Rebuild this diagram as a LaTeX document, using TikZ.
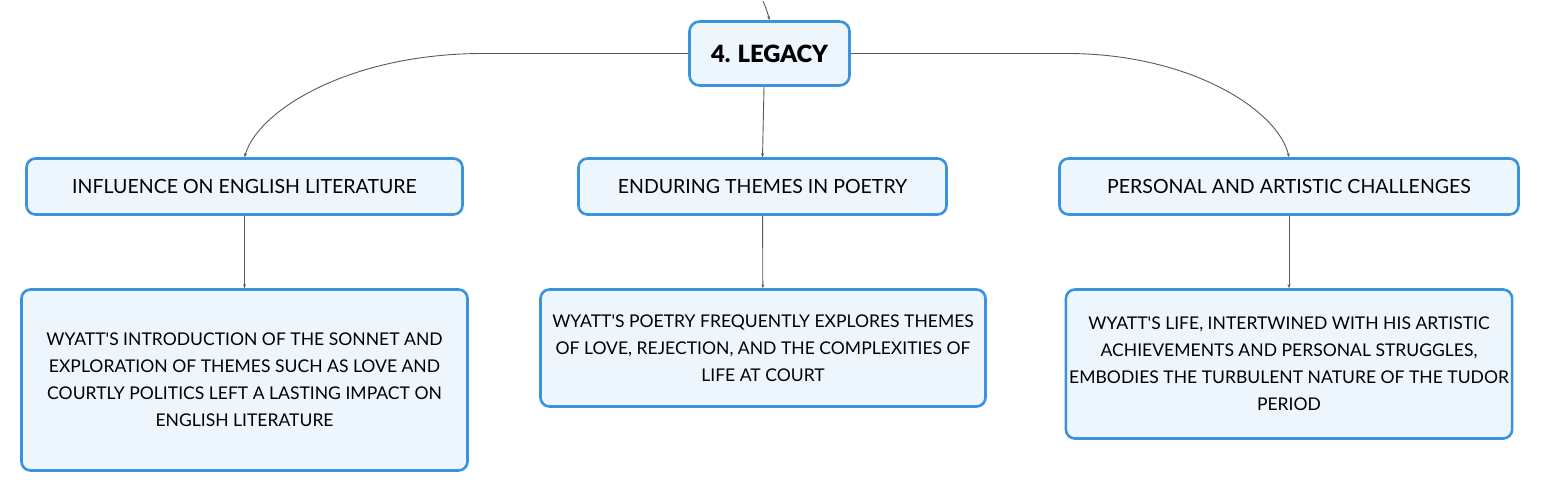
\documentclass[tikz,border=0pt]{standalone}
\usepackage{fontspec}
\setmainfont{Lato}[Ligatures=TeXOff]
\newfontfamily\blackfont{Lato Black}
\usetikzlibrary{arrows.meta}
\definecolor{boxblue}{HTML}{3A93DC}
\definecolor{boxfill}{HTML}{EEF6FD}
\definecolor{linkgray}{HTML}{5A5A5A}
\tikzset{
  topic/.style={draw=boxblue,fill=boxfill,line width=2.6bp,rounded corners=9bp,align=center,font=\fontsize{19.6}{22}\selectfont},
  detail/.style={topic,font=\fontsize{17.6}{27}\selectfont},
  link/.style={draw=linkgray,line width=0.9bp,-{Stealth[length=4bp,width=3bp]}},
}
\begin{document}
\begin{tikzpicture}[>=latex,line join=bevel,]
\useasboundingbox (0bp,0bp) rectangle (1541bp,-494bp);
%%
\coordinate (top_in) at (763bp,-1bp);
\node (legacy) at (769.5bp,-53.5bp) [topic,minimum width=160bp,minimum height=64bp,rounded corners=10bp,font=\fontsize{23.8}{26}\blackfont] {4. LEGACY};
%
\node (node_infl) at (244.5bp,-186.5bp) [topic,minimum width=436bp,minimum height=56bp] {INFLUENCE ON ENGLISH LITERATURE};
  \node (node_themes) at (762.5bp,-186.5bp) [topic,minimum width=368bp,minimum height=56bp] {ENDURING THEMES IN POETRY};
  \node (node_chall) at (1289bp,-186.5bp) [topic,minimum width=459bp,minimum height=56bp] {PERSONAL AND ARTISTIC CHALLENGES};
%
\node (node_infl_txt) at (244.5bp,-380bp) [detail,minimum width=446bp,minimum height=181bp] {WYATT'S INTRODUCTION OF THE SONNET AND\\EXPLORATION OF THEMES SUCH AS LOVE AND\\COURTLY POLITICS LEFT A LASTING IMPACT ON\\ENGLISH LITERATURE};
  \node (node_themes_txt) at (763bp,-348bp) [detail,minimum width=445bp,minimum height=117bp] {WYATT'S POETRY FREQUENTLY EXPLORES THEMES\\OF LOVE, REJECTION, AND THE COMPLEXITIES OF\\LIFE AT COURT};
  \node (node_chall_txt) at (1289bp,-364bp) [detail,minimum width=445bp,minimum height=149bp] {WYATT'S LIFE, INTERTWINED WITH HIS ARTISTIC\\ACHIEVEMENTS AND PERSONAL STRUGGLES,\\EMBODIES THE TURBULENT NATURE OF THE TUDOR\\PERIOD};
%
\draw [link] (top_in) ..controls (766bp,-8bp) and (768bp,-14bp)  .. (legacy.north);
  \draw [link] (legacy.west) -- (483bp,-53.5bp) ..controls (350bp,-53.5bp) and (258bp,-110bp)  .. (node_infl.north);
  \draw [link] ([xshift=-5.5bp]legacy.south) -- (node_themes.north);
  \draw [link] (legacy.east) -- (1067bp,-53.5bp) ..controls (1190bp,-53.5bp) and (1278bp,-110bp)  .. (node_chall.north);
%
\draw [link] (node_infl) -- (node_infl_txt);
  \draw [link] (node_themes) -- (node_themes_txt);
  \draw [link] (node_chall) -- (node_chall_txt);
%
\end{tikzpicture}
\end{document}
